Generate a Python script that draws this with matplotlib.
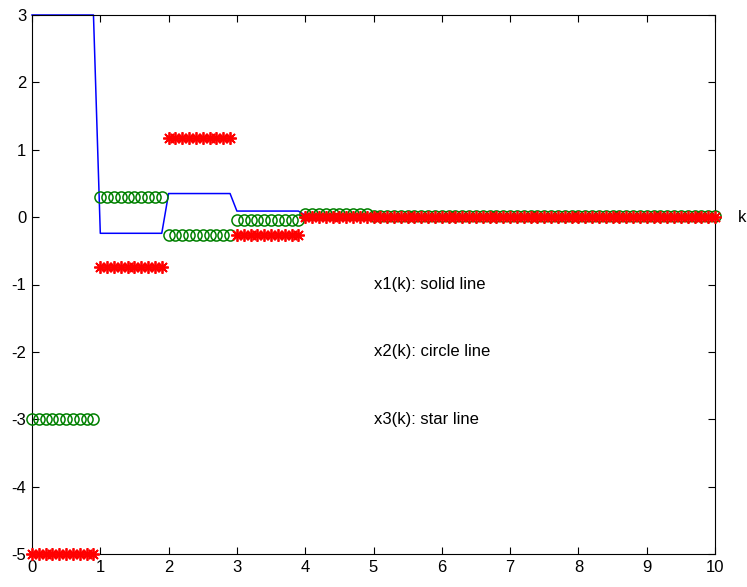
import numpy as np
import matplotlib.pyplot as plt

# sample instants k = 0, 0.1, ..., 10 (held constant over each unit step)
k = np.round(np.arange(0, 10.05, 0.1), 2)

# level of each state on the unit intervals [0,1), [1,2), ..., [9,10]
x1_levels = [3.0, -0.24, 0.35, 0.09, 0.03, 0.01, 0.0, 0.0, 0.0, 0.0]
x2_levels = [-3.0, 0.30, -0.27, -0.05, 0.04, 0.01, 0.01, 0.01, 0.01, 0.01]
x3_levels = [-5.0, -0.74, 1.17, -0.27, 0.0, 0.0, 0.0, 0.0, 0.0, 0.0]

labels = ["x1(k): solid line", "x2(k): circle line", "x3(k): star line"]
label_y = [-1, -2, -3]


def hold(levels):
    vals = np.repeat(levels, 10)
    return np.append(vals, levels[-1])


x1 = hold(x1_levels)
x2 = hold(x2_levels)
x3 = hold(x3_levels)

plt.rcParams['font.family'] = ['Liberation Sans', 'DejaVu Sans']
plt.rcParams['axes.unicode_minus'] = False

fig = plt.figure(figsize=(7.47, 5.87), dpi=100)
ax = fig.add_axes([32 / 747, 1 - 554 / 587, 683 / 747, 539 / 587])

ax.plot(k, x1, color="#0000ff", linewidth=1.1, clip_on=False, zorder=2)
ax.plot(k, x2, linestyle="none", marker="o", markersize=8,
        markerfacecolor="none", markeredgecolor="#008000",
        markeredgewidth=1.1, clip_on=False, zorder=3)
ax.plot(k, x3, linestyle="none", marker=(8, 2, 0), markersize=9,
        markeredgecolor="#ff0000", markeredgewidth=1.3, clip_on=False, zorder=4)

for lab, y in zip(labels, label_y):
    ax.text(5.0, y, lab, fontsize=12, ha="left", va="center")
ax.text(10.33, 0, "k", fontsize=12, ha="left", va="center", clip_on=False)

ax.set_xlim(0, 10)
ax.set_ylim(-5, 3)
ax.set_xticks(range(0, 11))
ax.set_yticks(range(-5, 4))
ax.tick_params(direction="in", top=True, right=True, labelsize=12,
               length=5, width=0.8, pad=4)
for s in ax.spines.values():
    s.set_linewidth(0.8)

fig.savefig("out.png", dpi=100)
